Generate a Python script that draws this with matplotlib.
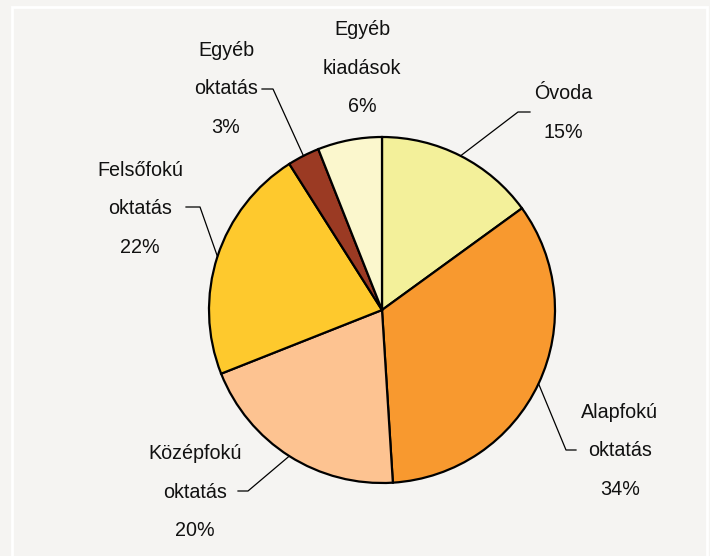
import numpy as np
import matplotlib.pyplot as plt
from matplotlib.patches import Rectangle

plt.rcParams['font.family'] = ['Liberation Sans', 'DejaVu Sans']

labels = ['Óvoda', 'Alapfokú\noktatás', 'Középfokú\noktatás', 'Felsőfokú\noktatás',
          'Egyéb\noktatás', 'Egyéb\nkiadások']
values = [15, 34, 20, 22, 3, 6]
colors = ['#F3F09A', '#F8992F', '#FDC391', '#FEC92D', '#9B3A23', '#FBF7CD']

# label text centres (pixels, y down) and leader-line elbow ends
label_pos = [(563, 113), (620, 451), (195, 492), (140, 209), (226, 89), (362, 68)]
elbow = [(518, 112, 530), (566, 450, 576), (248, 491, 238), (200, 207, 186),
         (273, 89, 262), None]

W, H = 710, 556
cx, cy, r = 382, 310, 173

fig = plt.figure(figsize=(W / 100, H / 100), dpi=100)
fig.patch.set_facecolor('#F5F4F2')
ax = fig.add_axes([0, 0, 1, 1])

wedges, _ = ax.pie(values, colors=colors, startangle=90, counterclock=False,
                   center=(cx, H - cy), radius=r,
                   wedgeprops=dict(edgecolor='black', linewidth=1.6))

ax.set_xlim(0, W)
ax.set_ylim(0, H)
ax.set_aspect('equal')
ax.axis('off')

ax.add_patch(Rectangle((12, -10), 695, H - 7 + 10, fill=False, ec='white', lw=2))

total = sum(values)
start = 90.0
for v, lab, (tx, ty), el in zip(values, labels, label_pos, elbow):
    span = 360.0 * v / total
    mid = np.radians(start - span / 2)
    start -= span
    pct = '%d%%' % round(100 * v / total)
    ax.text(tx, H - ty, lab + '\n' + pct, ha='center', va='center', fontsize=14.2,
            linespacing=2.3, color='#111111')
    if el is not None:
        sx = cx + r * np.cos(mid)
        sy = (H - cy) + r * np.sin(mid)
        ex, ey, hx = el
        ax.plot([sx, ex, hx], [sy, H - ey, H - ey], color='black', lw=0.9)

fig.savefig('out.png', dpi=100, facecolor=fig.get_facecolor())
